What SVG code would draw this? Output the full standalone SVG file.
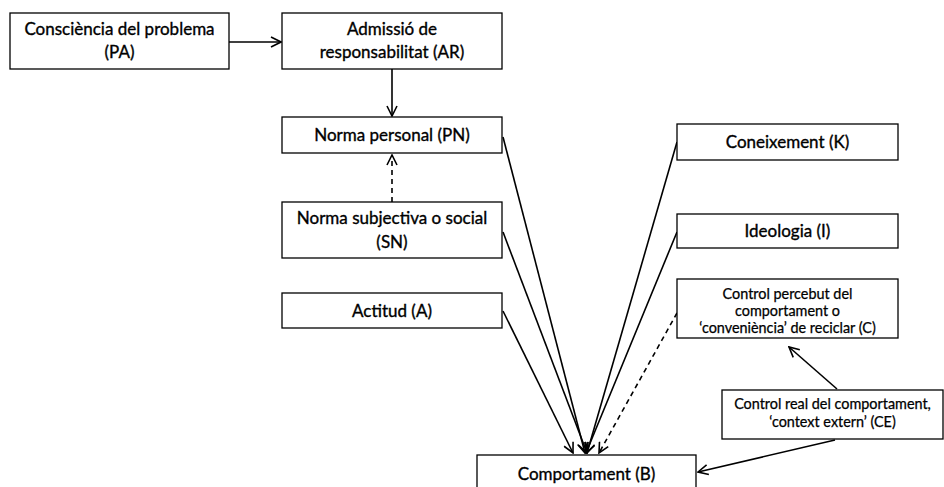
<svg xmlns="http://www.w3.org/2000/svg" width="944" height="487" viewBox="0 0 944 487">
<style>
.box{fill:#fff;stroke:#000;stroke-width:1.3}
.t{font-family:Lato,"Liberation Sans",sans-serif;font-size:17px;fill:#000;stroke:#000;stroke-width:0.35;text-anchor:middle}
.s{font-size:14.4px;stroke-width:0.25}
.c{stroke:#000;stroke-width:1.6;fill:none;marker-end:url(#ah)}
.d{stroke-dasharray:5,4}
</style>
<defs>
<marker id="ah" viewBox="0 0 12 12" refX="11" refY="6" markerWidth="12" markerHeight="12" markerUnits="userSpaceOnUse" orient="auto">
<path d="M1,1 L11,6 L1,11" fill="none" stroke="#000" stroke-width="1.6"/>
</marker>
</defs>
<g id="connectors">
<line class="c" x1="229" y1="42" x2="281" y2="42"/>
<line class="c" x1="392" y1="69" x2="392" y2="116"/>
<line class="c d" x1="392" y1="202" x2="392" y2="155"/>
<line class="c" x1="503" y1="137" x2="585" y2="453"/>
<line class="c" x1="503" y1="232" x2="587" y2="453"/>
<line class="c" x1="503" y1="311" x2="573" y2="453"/>
<line class="c" x1="677" y1="142" x2="587" y2="453"/>
<line class="c" x1="677" y1="232" x2="586" y2="453"/>
<line class="c d" x1="677" y1="313" x2="599" y2="453"/>
<line class="c" x1="837" y1="389" x2="789" y2="347"/>
<line class="c" x1="835" y1="440" x2="698" y2="472"/>
</g>
<g id="PA"><rect class="box" x="10" y="13" width="219" height="56"/>
<text class="t" x="119.5" y="35">Consciència del problema</text><text class="t" x="119.5" y="58">(PA)</text></g>
<g id="AR"><rect class="box" x="282" y="13" width="220" height="56"/>
<text class="t" x="392" y="35">Admissió de</text><text class="t" x="392" y="58">responsabilitat (AR)</text></g>
<g id="PN"><rect class="box" x="282" y="117" width="220" height="36"/>
<text class="t" x="392" y="141">Norma personal (PN)</text></g>
<g id="SN"><rect class="box" x="282" y="202" width="220" height="56"/>
<text class="t" x="392" y="224">Norma subjectiva o social</text><text class="t" x="392" y="248">(SN)</text></g>
<g id="A"><rect class="box" x="282" y="293" width="220" height="35"/>
<text class="t" x="392" y="317">Actitud (A)</text></g>
<g id="K"><rect class="box" x="677" y="124" width="221" height="36"/>
<text class="t" x="787.5" y="148">Coneixement (K)</text></g>
<g id="I"><rect class="box" x="677" y="214" width="221" height="34"/>
<text class="t" x="787.5" y="237">Ideologia (I)</text></g>
<g id="C"><rect class="box" x="677" y="279" width="221" height="59"/>
<text class="t s" x="787.5" y="299">Control percebut del</text><text class="t s" x="787.5" y="316">comportament o</text><text class="t s" x="787.5" y="333">‘conveniència’ de reciclar (C)</text></g>
<g id="CE"><rect class="box" x="722" y="390" width="221" height="49"/>
<text class="t s" x="832.5" y="409">Control real del comportament,</text><text class="t s" x="832.5" y="427">‘context extern’ (CE)</text></g>
<g id="B"><rect class="box" x="477" y="455" width="219" height="40"/>
<text class="t" x="586.5" y="480">Comportament (B)</text></g>
</svg>
